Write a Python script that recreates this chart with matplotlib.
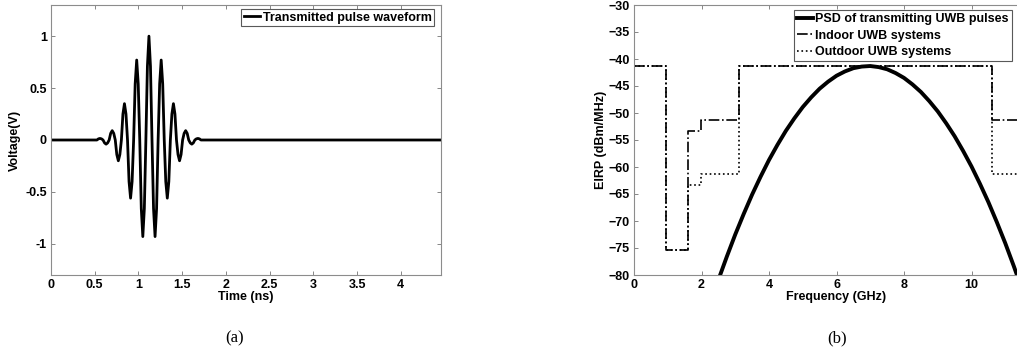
import matplotlib
matplotlib.use('Agg')
import matplotlib.pyplot as plt

plt.rcParams['font.family'] = ['Liberation Sans', 'DejaVu Sans']
plt.rcParams['font.weight'] = 'bold'

# (a) transmitted pulse, samples
pulse_t = [0.0, 0.525, 0.5425, 0.56, 0.5775, 0.595, 0.6125, 0.63, 0.6475,
           0.665, 0.6825, 0.70, 0.7175, 0.735, 0.7525, 0.77, 0.7875,
           0.805, 0.8225, 0.84, 0.8575, 0.875, 0.8925, 0.91, 0.9275,
           0.945, 0.9625, 0.98, 0.9975, 1.015, 1.0325, 1.05, 1.0675,
           1.085, 1.1025, 1.12, 1.1375, 1.155, 1.1725, 1.19, 1.2075,
           1.225, 1.2425, 1.26, 1.2775, 1.295, 1.3125, 1.33, 1.3475,
           1.365, 1.3825, 1.40, 1.4175, 1.435, 1.4525, 1.47, 1.4875,
           1.505, 1.5225, 1.54, 1.5575, 1.575, 1.5925, 1.61, 1.6275,
           1.645, 1.6625, 1.68, 1.6975, 1.715, 4.5]
pulse_v = [0.0, 0.0, 0.011, 0.015, 0.011, 0.0, -0.028, -0.04, -0.028,
           0.0, 0.064, 0.09, 0.064, 0.0, -0.14, -0.20, -0.14,
           0.0, 0.25, 0.35, 0.25, 0.0, -0.40, -0.56, -0.40,
           0.0, 0.54, 0.77, 0.54, 0.0, -0.66, -0.93, -0.66,
           0.0, 0.71, 1.00, 0.71, 0.0, -0.66, -0.93, -0.66,
           0.0, 0.54, 0.77, 0.54, 0.0, -0.40, -0.56, -0.40,
           0.0, 0.25, 0.35, 0.25, 0.0, -0.14, -0.20, -0.14,
           0.0, 0.064, 0.09, 0.064, 0.0, -0.028, -0.04, -0.028,
           0.0, 0.011, 0.015, 0.011, 0.0, 0.0]

# (b) PSD of the pulse (GHz, dBm/MHz)
psd_f = [2.5, 2.75, 3.0, 3.25, 3.5, 3.75, 4.0, 4.25, 4.5, 4.75, 5.0, 5.25,
         5.5, 5.75, 6.0, 6.25, 6.5, 6.75, 7.0, 7.25, 7.5, 7.75, 8.0, 8.25,
         8.5, 8.75, 9.0, 9.25, 9.5, 9.75, 10.0, 10.25, 10.5, 10.75, 11.0,
         11.25, 11.5]
psd_db = [-80.9, -76.6, -72.5, -68.7, -65.1, -61.8, -58.7, -55.9, -53.3,
          -51.0, -48.9, -47.1, -45.5, -44.2, -43.1, -42.3, -41.7, -41.4,
          -41.3, -41.5, -41.9, -42.6, -43.5, -44.7, -46.1, -47.8, -49.7,
          -51.9, -54.3, -57.0, -59.9, -63.1, -66.5, -70.2, -74.1, -78.3,
          -82.7]

# FCC masks: band edges and level from each edge on
mask_edges = [0, 0.96, 1.61, 1.99, 3.1, 10.6, 12]
indoor_lvl = [-41.3, -75.3, -53.3, -51.3, -41.3, -51.3, -51.3]
outdoor_lvl = [-41.3, -75.3, -63.3, -61.3, -41.3, -61.3, -61.3]

W, H = 1017, 354
FS = 9
fig = plt.figure(figsize=(W / 100, H / 100), dpi=100)


def style(ax):
    ax.tick_params(direction='in', length=3, width=0.6, top=True, right=True,
                   labelsize=FS, pad=3, color='0.45')
    for s in ax.spines.values():
        s.set_color('0.55')
        s.set_linewidth(0.8)
    for lab in ax.get_xticklabels() + ax.get_yticklabels():
        lab.set_fontweight('bold')


def frame(leg):
    leg.get_frame().set_edgecolor('0.35')
    leg.get_frame().set_linewidth(0.8)


ax1 = fig.add_axes([51 / W, 1 - 275 / H, 390 / W, 270 / H])
ax1.plot(pulse_t, pulse_v, color='black', lw=2.0, label='Transmitted pulse waveform')
ax1.set_xlim(0, 4.46)
ax1.set_ylim(-1.3, 1.3)
ax1.set_xticks([0, 0.5, 1, 1.5, 2, 2.5, 3, 3.5, 4])
ax1.set_xticklabels(['0', '0.5', '1', '1.5', '2', '2.5', '3', '3.5', '4'])
ax1.set_yticks([-1, -0.5, 0, 0.5, 1])
ax1.set_yticklabels(['-1', '-0.5', '0', '0.5', '1'])
ax1.set_xlabel('Time (ns)', fontsize=FS, fontweight='bold', labelpad=0)
ax1.set_ylabel('Voltage(V)', fontsize=FS, fontweight='bold', labelpad=3)
style(ax1)
leg1 = ax1.legend(loc='upper right', bbox_to_anchor=(434 / W, 1 - 9 / H),
                  bbox_transform=fig.transFigure, fontsize=FS, fancybox=False,
                  handlelength=1.3, handletextpad=0.2, borderpad=0.2,
                  borderaxespad=0, framealpha=1)
frame(leg1)

ax2 = fig.add_axes([634 / W, 1 - 275 / H, 405 / W, 270 / H])
ax2.plot(psd_f, psd_db, color='black', lw=2.8, label='PSD of transmitting UWB pulses')
ax2.plot(mask_edges, indoor_lvl, color='black', lw=1.2, linestyle='-.',
         drawstyle='steps-post', label='Indoor UWB systems')
ax2.plot(mask_edges, outdoor_lvl, color='black', lw=1.2, linestyle=':',
         drawstyle='steps-post', label='Outdoor UWB systems')
ax2.set_xlim(0, 12)
ax2.set_ylim(-80, -30)
ax2.set_xticks([0, 2, 4, 6, 8, 10])
ax2.set_yticks(range(-80, -29, 5))
ax2.set_xlabel('Frequency (GHz)', fontsize=FS, fontweight='bold', labelpad=0)
ax2.set_ylabel('EIRP (dBm/MHz)', fontsize=FS, fontweight='bold', labelpad=1)
style(ax2)
leg2 = ax2.legend(loc='upper right', bbox_to_anchor=(1012 / W, 1 - 10 / H),
                  bbox_transform=fig.transFigure, fontsize=FS, fancybox=False,
                  handlelength=1.3, handletextpad=0.2, borderpad=0.25,
                  labelspacing=0.35, borderaxespad=0, framealpha=1)
frame(leg2)

fig.text(235 / W, 1 - 338 / H, '(a)', ha='center', va='center',
         family='Liberation Serif', fontweight='normal', fontsize=12)
fig.text(837 / W, 1 - 338 / H, '(b)', ha='center', va='center',
         family='Liberation Serif', fontweight='normal', fontsize=12)

fig.savefig('out.png', dpi=100)
